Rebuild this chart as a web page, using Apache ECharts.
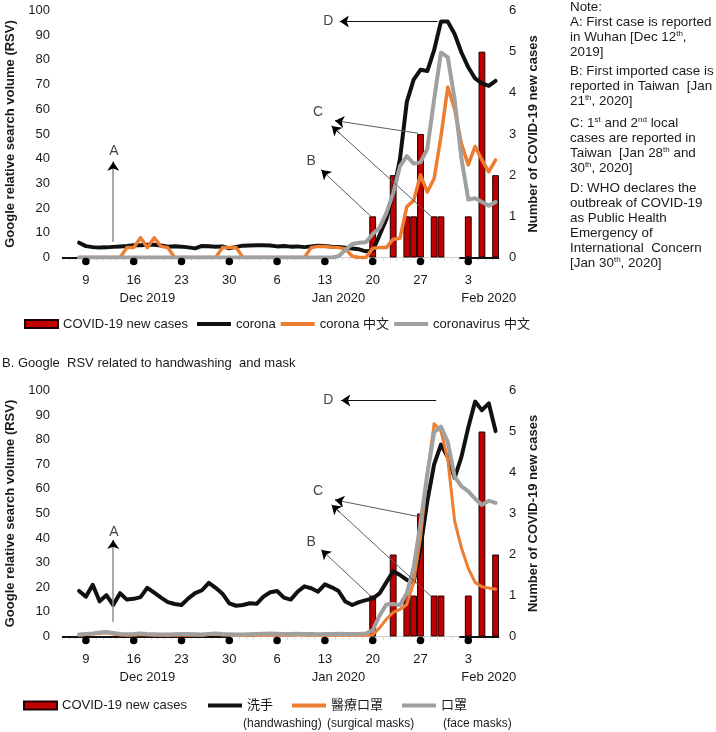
<!DOCTYPE html>
<html>
<head>
<meta charset="utf-8">
<script src="https://cdn.jsdelivr.net/npm/echarts@6/dist/echarts.min.js"></script>
<style>
  html, body { margin: 0; padding: 0; background: #fff; }
  #main { width: 716px; height: 732px; }
</style>
</head>
<body>
<div id="main"></div>
<script>
var chart = echarts.init(document.getElementById("main"));
var FONT = "'Liberation Sans', Arial, 'Noto Sans CJK TC', sans-serif";
var INK = "#1a1a1a";

// one category per day, Dec 6 2019 .. Feb 7 2020
var days = [];
for (var d = new Date(Date.UTC(2019, 11, 6)); days.length < 64; d.setUTCDate(d.getUTCDate() + 1)) {
  days.push(d.toISOString().slice(0, 10));
}
var tickDates = ["2019-12-09", "2019-12-16", "2019-12-23", "2019-12-30", "2020-01-06",
                 "2020-01-13", "2020-01-20", "2020-01-27", "2020-02-03"];
var tickLabels = ["9", "16", "23", "30", "6", "13", "20", "27", "3"];
var monthDates = ["2019-12-18", "2020-01-15", "2020-02-06"];
var monthLabels = ["Dec 2019", "Jan 2020", "Feb 2020"];

// COVID-19 new cases (right axis)
var caseDates = ["2020-01-20", "2020-01-23", "2020-01-25", "2020-01-26", "2020-01-27",
                 "2020-01-29", "2020-01-30", "2020-02-03", "2020-02-05", "2020-02-07"];
var caseCounts = [1, 2, 1, 1, 3, 1, 1, 1, 5, 2];

// Google RSV, daily from Dec 8 2019 to Feb 7 2020
var rsvCorona = [6, 4.6, 4.2, 4, 4.1, 4.3, 4.5, 4.7, 5, 5,
  5.2, 5.2, 4.9, 4.4, 4.6, 4.4, 4.1, 3.7, 4.7, 4.6,
  4.4, 4.5, 3.7, 4.3, 4.8, 4.9, 5, 5, 4.9, 4.5,
  4.7, 4.4, 4.5, 4.2, 4.5, 4.8, 4.7, 4.4, 4.3, 4,
  3.6, 3.3, 2.5, 2.7, 9, 15.5, 26, 40, 63, 72,
  76, 75.5, 84, 95.5, 95.5, 90.5, 83, 77, 72.5, 70.5,
  69.5, 71.5];
var rsvCoronaZh = [0, 0, 0, 0, 0, 0, 0, 4, 4, 8,
  4, 8, 4.5, 4, 0, 0, 0, 0, 0, 0,
  0, 4, 4, 4, 0, 0, 0, 0, 0, 0,
  0, 0, 0, 0, 4, 4.5, 4.5, 4.2, 4, 3.5,
  0.5, 0, 0, 3.7, 4, 4, 7.4, 7.8, 20.6, 23,
  33.4, 26.5, 32, 49, 69, 60, 46, 37.5, 45, 39.5,
  34.7, 39.5];
var rsvCoronavirusZh = [0, 0, 0, 0, 0, 0, 0, 0, 0, 0,
  0, 0, 0, 0, 0, 0, 0, 0, 0, 0,
  0, 0, 0, 0, 0, 0, 0, 0, 0, 0,
  0, 0, 0, 0, 0, 0, 0, 0, 0.5, 3,
  5.5, 6, 6.2, 9.5, 12, 18, 26, 37, 41, 38,
  38.5, 44, 64, 83, 81, 64, 40, 23.5, 24, 22.5,
  21, 22.5];
var rsvHandwash = [18.5, 16.2, 21, 14.3, 16.8, 12.8, 17.6, 15, 15.3, 16,
  19.8, 17.8, 15.8, 14, 13.2, 12.8, 15.5, 17.6, 18.8, 21.8,
  19.8, 17.4, 13.5, 12.5, 12.8, 13.5, 13.3, 16.2, 18, 18.5,
  15.8, 15, 18.2, 20.4, 19.6, 18.2, 21.2, 20, 18.5, 14.2,
  12.8, 14, 14.8, 15.4, 17.5, 22, 26.5, 25, 23, 22,
  36, 55, 70, 78, 73, 64.5, 73, 85, 95.5, 92,
  94.8, 83.5];
var rsvSurgicalMask = [0.5, 0.8, 1, 1.2, 1.5, 1, 0.6, 0.5, 0.5, 0.8,
  0.6, 0.5, 0.5, 0.4, 0.5, 0.5, 0.6, 0.5, 0.5, 0.8,
  1, 0.6, 0.5, 0.5, 0.4, 0.4, 0.5, 0.5, 0.5, 0.6,
  0.5, 0.5, 0.6, 0.6, 0.5, 0.5, 0.5, 0.5, 0.6, 0.5,
  0.5, 0.5, 0.5, 0.6, 3.5, 7, 9.8, 11, 13, 22,
  40, 66, 86.5, 83.5, 72, 47, 36, 27.7, 22, 20.2,
  19.7, 19.2];
var rsvFaceMask = [0.8, 1, 1.2, 1.6, 1.8, 1.4, 1, 0.9, 1, 1.2,
  1, 0.9, 0.8, 0.8, 0.9, 1, 1, 0.9, 0.8, 1,
  1.2, 1, 0.9, 0.8, 0.8, 0.9, 1, 1.1, 1.2, 1.1,
  1, 1, 1.1, 1, 1, 0.9, 1, 1, 1.1, 1,
  1, 1, 1.2, 2.5, 8.5, 13, 13.2, 12.8, 17.6, 28,
  46, 66, 83, 85.3, 79, 65, 61, 59, 56, 53.5,
  55.2, 54.3];

// annotation arrows: [from position, from RSV, to position, to RSV]; position = day slot on the axis
var arrowsTop = [[7, 6.4, 7, 38.8], [44.8, 16.5, 37.5, 35.4], [51.65, 50.3, 39.5, 55.4],
                 [53.6, 16.5, 39, 53.2], [54.5, 95.5, 40.2, 95.5]];
var arrowsBottom = [[7, 6, 7, 39.2], [44.8, 16.2, 37.5, 35.2], [51.8, 48.7, 39.5, 55.5],
                    [53.6, 16.2, 39, 53.5], [54.3, 95.9, 40.4, 95.9]];
var letterNames = ["A", "B", "C", "D"];
var lettersTop = [[7.1, 43], [36, 39], [37, 59], [38.5, 95.5]];
var lettersBottom = [[7.1, 42.4], [36, 38.5], [37, 58.9], [38.5, 95.9]];
var darkAxisParts = [[-0.5, 24], [57.7, 63.5]];

var option = {
  animation: false,
  backgroundColor: "#fff",
  textStyle: { fontFamily: FONT },
  grid: [],
  xAxis: [],
  yAxis: [],
  series: [],
  legend: [],
  graphic: []
};

function addPanel(k, top, height, names, colors, widths, values, arrows, letters) {
  option.grid.push({ left: 62, right: 217, top: top, height: height, outerBoundsMode: "none" });
  var xi = option.xAxis.length;
  var yi = option.yAxis.length;

  option.xAxis.push({
    type: "category", gridIndex: k, position: "bottom", data: days,
    axisLine: { lineStyle: { color: "#cfcfcf", width: 1 } },
    axisTick: { show: true, interval: 0, length: 3, lineStyle: { color: "#d8d8d8" } },
    axisLabel: {
      interval: function (i, v) { return tickDates.indexOf(v) >= 0; },
      formatter: function (v) { return tickLabels[tickDates.indexOf(v)]; },
      margin: 16, fontSize: 13, color: INK, fontFamily: FONT
    }
  }, {
    type: "category", gridIndex: k, position: "bottom", data: days,
    axisLine: { show: false }, axisTick: { show: false },
    axisLabel: {
      interval: function (i, v) { return monthDates.indexOf(v) >= 0; },
      formatter: function (v) { return monthLabels[monthDates.indexOf(v)]; },
      margin: 34, fontSize: 13, color: INK, fontFamily: FONT
    }
  }, {
    type: "value", gridIndex: k, position: "top", show: false, min: -0.5, max: 63.5
  });

  option.yAxis.push({
    type: "value", gridIndex: k, position: "left", min: 0, max: 100, interval: 10,
    axisLine: { show: false }, axisTick: { show: false }, splitLine: { show: false },
    axisLabel: { margin: 12, fontSize: 13, color: INK, fontFamily: FONT },
    name: "Google relative search volume (RSV)", nameLocation: "middle", nameGap: 38,
    nameTextStyle: { fontSize: 13, fontWeight: "bold", color: INK, fontFamily: FONT }
  }, {
    type: "value", gridIndex: k, position: "right", min: 0, max: 6, interval: 1,
    axisLine: { show: false }, axisTick: { show: false }, splitLine: { show: false },
    axisLabel: { margin: 10, fontSize: 13, color: INK, fontFamily: FONT },
    name: "Number of COVID-19 new cases", nameLocation: "middle", nameGap: 24,
    nameTextStyle: { fontSize: 13, fontWeight: "bold", color: INK, fontFamily: FONT }
  });

  option.series.push({
    name: "COVID-19 new cases", type: "bar", xAxisIndex: xi, yAxisIndex: yi + 1,
    barCategoryGap: "0%",
    itemStyle: { color: "#c00000", borderColor: "#220000", borderWidth: 1 },
    data: caseDates.map(function (dt, j) { return [dt, caseCounts[j]]; })
  });

  names.forEach(function (nm, s) {
    option.series.push({
      name: nm, type: "line", xAxisIndex: xi, yAxisIndex: yi,
      color: colors[s], symbol: "none", showSymbol: false,
      lineStyle: { color: colors[s], width: widths[s], cap: "round", join: "round" },
      data: values[s].map(function (v, j) { return [days[j + 2], v]; })
    });
  });

  // dark stretches of the date axis
  option.series.push({
    type: "lines", coordinateSystem: "cartesian2d", xAxisIndex: xi + 2, yAxisIndex: yi,
    silent: true, clip: false, z: 3, symbol: "none",
    lineStyle: { color: "#111", width: 2, opacity: 1 },
    data: darkAxisParts.map(function (p) { return { coords: [[p[0], 0], [p[1], 0]] }; })
  });

  // week markers under the axis
  option.series.push({
    type: "scatter", xAxisIndex: xi, yAxisIndex: yi, silent: true, clip: false, z: 4,
    symbolSize: 7.5, symbolOffset: [0, 4], itemStyle: { color: "#000", opacity: 1 },
    data: tickDates.map(function (dt) { return [dt, 0]; })
  });

  var bodyColors = ["#8c8c8c", "#5c5c5c", "#5c5c5c", "#5c5c5c", "#111"];
  option.series.push({
    type: "lines", coordinateSystem: "cartesian2d", xAxisIndex: xi + 2, yAxisIndex: yi,
    silent: true, clip: false, z: 5, symbol: "none",
    data: arrows.map(function (a, j) {
      return { coords: [[a[0], a[1]], [a[2], a[3]]],
               lineStyle: { color: bodyColors[j], width: j === 0 ? 1.5 : 1, opacity: 1 } };
    })
  });
  option.series.push({
    type: "lines", coordinateSystem: "cartesian2d", xAxisIndex: xi + 2, yAxisIndex: yi,
    silent: true, clip: false, z: 6, symbol: ["none", "arrow"], symbolSize: 9,
    lineStyle: { color: "#000", width: 1, opacity: 1 },
    data: arrows.map(function (a) {
      return { coords: [[a[2] + (a[0] - a[2]) * 0.08, a[3] + (a[1] - a[3]) * 0.08], [a[2], a[3]]] };
    })
  });
  option.series.push({
    type: "scatter", xAxisIndex: xi + 2, yAxisIndex: yi, silent: true, clip: false, z: 6,
    symbolSize: 0,
    label: { show: true, position: "inside", formatter: "{b}", fontSize: 14, color: "#111", fontFamily: FONT },
    data: letters.map(function (p, j) { return { name: letterNames[j], value: p }; })
  });
}

addPanel(0, 10.5, 247, ["corona", "corona 中文", "coronavirus 中文"],
  ["#111111", "#ED7D31", "#A0A0A0"], [4, 3.5, 4],
  [rsvCorona, rsvCoronaZh, rsvCoronavirusZh], arrowsTop, lettersTop);
addPanel(1, 390.5, 246, ["洗手", "醫療口罩", "口罩"],
  ["#111111", "#ED7D31", "#A0A0A0"], [4, 3, 4],
  [rsvHandwash, rsvSurgicalMask, rsvFaceMask], arrowsBottom, lettersBottom);

var legendText = { fontSize: 13, color: INK, fontFamily: FONT };
option.legend = [
  { data: ["COVID-19 new cases"], left: 24, top: 317.5, padding: 0, icon: "rect",
    itemWidth: 33, itemHeight: 8, textStyle: legendText, selectedMode: false },
  { data: ["corona", "corona 中文", "coronavirus 中文"], left: 197, top: 317.5, padding: 0,
    icon: "rect", itemWidth: 34, itemHeight: 4, itemGap: 5, textStyle: legendText, selectedMode: false },
  { data: ["COVID-19 new cases"], left: 23, top: 699, padding: 0, icon: "rect",
    itemWidth: 33, itemHeight: 8, textStyle: legendText, selectedMode: false },
  { data: ["洗手", "醫療口罩", "口罩"], left: 208, top: 699, padding: 0,
    icon: "rect", itemWidth: 34, itemHeight: 4, itemGap: 19, textStyle: legendText, selectedMode: false }
];

var sup = { fontSize: 8, lineHeight: 8, verticalAlign: "top", fill: INK, fontFamily: FONT };
function noteText(top, txt) {
  return { type: "text", left: 570, top: top, silent: true,
    style: { text: txt, fontSize: 13.4, lineHeight: 15, fill: INK, fontFamily: FONT, rich: { s: sup } } };
}
option.graphic = [
  { type: "text", left: 2, top: 357, silent: true,
    style: { text: "B. Google  RSV related to handwashing  and mask", fontSize: 13, fill: INK, fontFamily: FONT } },
  { type: "text", left: 243, top: 717.5, silent: true,
    style: { text: "(handwashing)", fontSize: 12, fill: INK, fontFamily: FONT } },
  { type: "text", left: 327, top: 717.5, silent: true,
    style: { text: "(surgical masks)", fontSize: 12, fill: INK, fontFamily: FONT } },
  { type: "text", left: 443, top: 717.5, silent: true,
    style: { text: "(face masks)", fontSize: 12, fill: INK, fontFamily: FONT } },
  noteText(0, "Note:\nA: First case is reported\nin Wuhan [Dec 12{s|th},\n2019]"),
  noteText(64, "B: First imported case is\nreported in Taiwan  [Jan\n21{s|th}, 2020]"),
  noteText(116, "C: 1{s|st} and 2{s|nd} local\ncases are reported in\nTaiwan  [Jan 28{s|th} and\n30{s|th}, 2020]"),
  noteText(181, "D: WHO declares the\noutbreak of COVID-19\nas Public Health\nEmergency of\nInternational  Concern\n[Jan 30{s|th}, 2020]")
];

chart.setOption(option);
</script>
</body>
</html>
